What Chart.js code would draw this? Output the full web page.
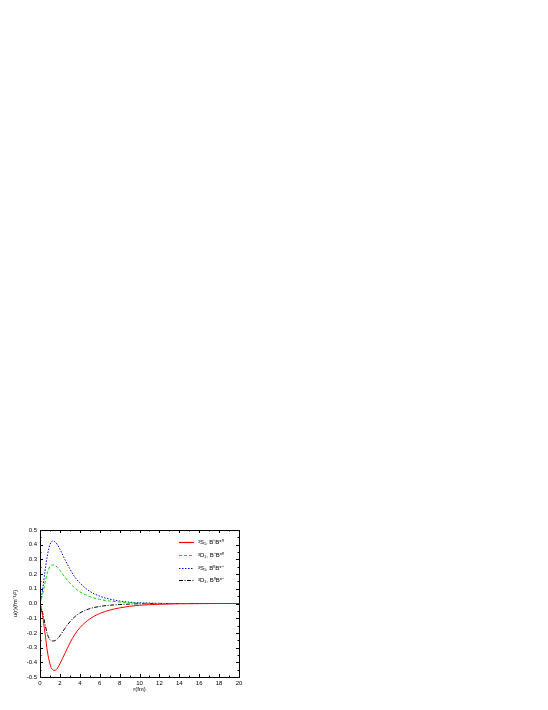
<!DOCTYPE html>
<html><head><meta charset="utf-8">
<script src="https://cdn.jsdelivr.net/npm/chart.js@4"></script>
<style>html,body{margin:0;padding:0;background:#fff;}canvas{display:block;}</style>
</head><body>
<div style="position:relative;width:548px;height:710px;"><canvas id="c" width="548" height="710"></canvas></div>
<script>
const r = [0,0.25,0.5,0.75,1,1.25,1.5,1.75,2,2.5,3,3.5,4,5,6,7,8,9,10,12,14,16,18,20];
const s1Bp = [0,-0.08,-0.2,-0.33,-0.41,-0.45,-0.455,-0.44,-0.41,-0.34,-0.27,-0.21,-0.165,-0.105,-0.068,-0.045,-0.03,-0.019,-0.012,-0.005,-0.002,-0.001,0,0];
const d1Bp = [0,0.06,0.14,0.21,0.25,0.262,0.26,0.245,0.225,0.18,0.14,0.105,0.08,0.047,0.028,0.017,0.01,0.006,0.003,0.001,0,0,0,0];
const s1B0 = [0,0.09,0.22,0.33,0.40,0.425,0.42,0.40,0.37,0.30,0.235,0.18,0.14,0.083,0.05,0.03,0.017,0.009,0.005,0.001,0,0,0,0];
const d1B0 = [0,-0.06,-0.14,-0.21,-0.245,-0.255,-0.253,-0.24,-0.22,-0.17,-0.125,-0.09,-0.065,-0.035,-0.02,-0.012,-0.007,-0.004,-0.002,-0.001,0,0,0,0];
const labels = ['³S₁, B⁺B*⁰','³D₁, B⁺B*⁰','³S₁, B⁰B*⁺','³D₁, B⁰B*⁺'];
const xTicks = [0,2,4,6,8,10,12,14,16,18,20];
const yTicks = [-0.5,-0.4,-0.3,-0.2,-0.1,0.0,0.1,0.2,0.3,0.4,0.5];

const FONT = 'Liberation Sans, Arial, sans-serif';
function mk(data, label, color, dash){
  return {label, data: r.map((x,i)=>({x, y:data[i]})), borderColor: color, backgroundColor: color,
    borderWidth: 1, borderDash: dash, pointRadius: 0, cubicInterpolationMode: 'monotone', fill:false};
}
const boxPlugin = {
  id:'box',
  afterDraw(chart){
    const {ctx, chartArea:a, scales:{x, y}} = chart;
    ctx.save();
    ctx.strokeStyle = '#000'; ctx.lineWidth = 1; ctx.setLineDash([]);
    ctx.strokeRect(Math.round(a.left)+0.5, Math.round(a.top)+0.5, Math.round(a.right-a.left), Math.round(a.bottom-a.top));
    ctx.beginPath();
    for (let v=0; v<=20; v+=1){
      const px = Math.round(x.getPixelForValue(v))+0.5;
      const L = (v%2===0)?3:1.5;
      ctx.moveTo(px, a.bottom); ctx.lineTo(px, a.bottom-L);
      ctx.moveTo(px, a.top); ctx.lineTo(px, a.top+L);
    }
    for (let k=-10; k<=10; k++){
      const v = k*0.05;
      const py = Math.round(y.getPixelForValue(v))+0.5;
      const L = (k%2===0)?3:1.5;
      ctx.moveTo(a.left, py); ctx.lineTo(a.left+L, py);
      ctx.moveTo(a.right, py); ctx.lineTo(a.right-L, py);
    }
    ctx.stroke();
    // legend
    const rows = [542,555,568,580];
    ctx.font = '6px '+FONT; ctx.textBaseline='middle'; ctx.fillStyle='#000';
    chart.data.datasets.forEach((ds,i)=>{
      ctx.beginPath(); ctx.strokeStyle = ds.borderColor; ctx.lineWidth = 1.2; ctx.setLineDash(ds.borderDash||[]);
      ctx.moveTo(179, rows[i]+0.5); ctx.lineTo(194, rows[i]+0.5); ctx.stroke();
      ctx.fillText(ds.label, 198, rows[i]);
    });
    ctx.restore();
  }
};
new Chart(document.getElementById('c'), {
  type:'line',
  data:{datasets:[
    mk(s1Bp, labels[0], '#ff0000', []),
    mk(d1Bp, labels[1], '#00dd00', [3,2]),
    mk(s1B0, labels[2], '#0000ff', [1.5,1.5]),
    mk(d1B0, labels[3], '#000000', [4,1.5,1,1.5])
  ]},
  options:{
    responsive:false, animation:false, events:[],
    layout:{padding:{left:12, top:530, right:309, bottom:17}},
    plugins:{legend:{display:false}, tooltip:{enabled:false}},
    scales:{
      x:{type:'linear', min:0, max:20,
        afterBuildTicks(s){ s.ticks = xTicks.map(v=>({value:v})); },
        afterFit(s){ s.height = 16; },
        grid:{display:false, drawTicks:false}, border:{display:false},
        ticks:{padding:3, font:{size:6, family:FONT}, color:'#000', maxRotation:0, callback:v=>String(v)},
        title:{display:true, text:'r(fm)', font:{size:6, family:FONT}, color:'#000', padding:{top:0,bottom:0}}
      },
      y:{type:'linear', min:-0.5, max:0.5,
        afterBuildTicks(s){ s.ticks = yTicks.map(v=>({value:v})); },
        afterFit(s){ s.width = 28; },
        grid:{display:false, drawTicks:false}, border:{display:false},
        ticks:{padding:3, font:{size:6, family:FONT}, color:'#000', callback:v=>v.toFixed(1)},
        title:{display:true, text:'u(r)(fm⁻¹/²)', font:{size:6, family:FONT}, color:'#000', padding:{top:0,bottom:0}}
      }
    }
  },
  plugins:[boxPlugin]
});
</script>
</body></html>
